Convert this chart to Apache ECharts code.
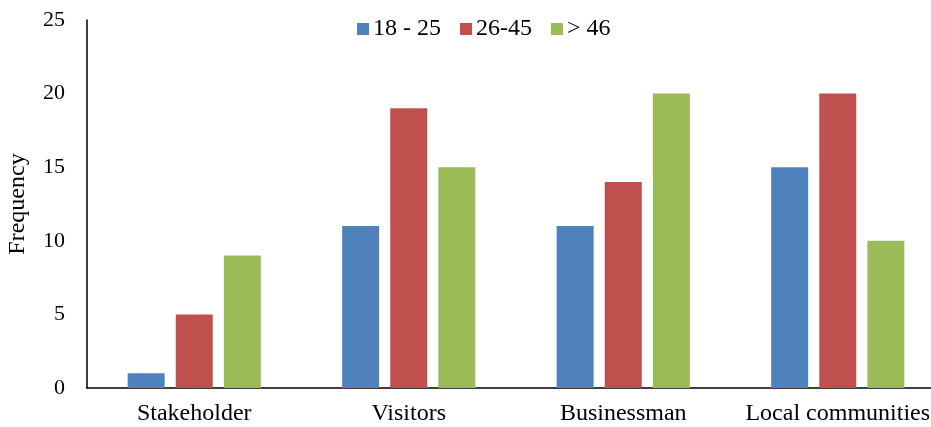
<!DOCTYPE html>
<html>
<head>
<meta charset="utf-8">
<script src="https://cdn.jsdelivr.net/npm/echarts@6/dist/echarts.min.js"></script>
<style>
  html, body { margin: 0; padding: 0; background: #fff; }
  #chart { width: 931px; height: 427px; }
</style>
</head>
<body>
<div id="chart"></div>
<script>
const categories = ['Stakeholder', 'Visitors', 'Businessman', 'Local communities']
const age18to25 = [1, 11, 11, 15]
const age26to45 = [5, 19, 14, 20]
const ageOver46 = [9, 15, 20, 10]

const font = '"Liberation Serif", "Times New Roman", serif'
const chart = echarts.init(document.getElementById('chart'))

const bar = (name, data, color) => ({
  name: name,
  type: 'bar',
  data: data,
  barWidth: 37,
  barGap: '30%',
  itemStyle: { color: color }
})

chart.setOption({
  animation: false,
  textStyle: { fontFamily: font },
  legend: {
    top: 12,
    left: 352,
    itemWidth: 12,
    itemHeight: 12,
    itemGap: 19,
    icon: 'rect',
    textStyle: { fontFamily: font, fontSize: 24, color: '#000', padding: [0, 0, 0, -1] },
    data: ['18 - 25', '26-45', '> 46']
  },
  // plot runs a little past the right edge, like the source
  grid: {
    left: 87,
    width: 858,
    top: 20,
    bottom: 39,
    containLabel: false,
    outerBoundsMode: 'none'
  },
  xAxis: {
    type: 'category',
    data: categories,
    axisLine: { lineStyle: { color: '#000', width: 1.5 } },
    axisTick: { show: false },
    axisLabel: { interval: 0, fontFamily: font, fontSize: 24, color: '#000', margin: 14 }
  },
  yAxis: {
    type: 'value',
    min: 0,
    max: 25,
    interval: 5,
    name: 'Frequency',
    nameLocation: 'middle',
    nameGap: 57,
    nameTextStyle: { fontFamily: font, fontSize: 24, color: '#000' },
    axisLine: { show: true, lineStyle: { color: '#000', width: 1.5 } },
    axisTick: { show: false },
    splitLine: { show: false },
    axisLabel: { fontFamily: font, fontSize: 22, color: '#000', margin: 22 }
  },
  series: [
    bar('18 - 25', age18to25, '#4f81bd'),
    bar('26-45', age26to45, '#c0504d'),
    bar('> 46', ageOver46, '#9bbb59')
  ]
})
</script>
</body>
</html>
